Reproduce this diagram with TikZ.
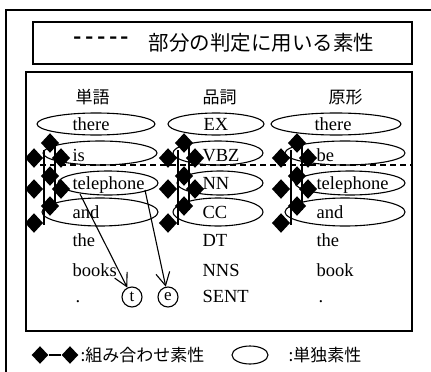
\documentclass[tikz,border=0pt]{standalone}
\usepackage{fontspec}
\setmainfont{Liberation Serif}
\newfontfamily\jp{Noto Sans CJK JP}
\usetikzlibrary{arrows.meta,shapes.geometric}
\begin{document}
\begin{tikzpicture}[x=1pt,y=-1pt,line width=1.1pt,
  word/.style={anchor=base west,inner sep=0pt,font=\fontsize{18.5}{18.5}\selectfont},
  head/.style={anchor=west,inner sep=0pt,font=\jp\fontsize{17}{17}\selectfont},
  legtext/.style={anchor=west,inner sep=0pt,font=\jp\fontsize{17}{17}\selectfont},
  diam/.style={diamond,fill=black,draw=none,minimum width=17pt,minimum height=18pt,inner sep=0pt},
  bigdiam/.style={diam,minimum width=18.5pt,minimum height=20pt},
  letter/.style={circle,draw,minimum size=20pt,inner sep=0pt,font=\fontsize{17}{17}\selectfont},
  arr/.style={-{Straight Barb[length=13pt,width=14pt,line width=1.1pt]},line width=1.1pt}
]
\useasboundingbox (0,0) rectangle (431,372);
% frames
\draw (6,380) -- (6,10) -- (440,10);
\node[draw,minimum width=379pt,minimum height=42pt,inner sep=0pt] (titlebox) at (222.5,43) {};
\node[anchor=west,inner sep=0pt,font=\jp\fontsize{21}{21}\selectfont] (dashes) at (73,42) {\scalebox{1.15}[1.6]{{-}\kern3pt{-}\kern3pt{-}\kern3pt{-}\kern3pt{-}}};
\node[anchor=west,inner sep=0pt,font=\jp\fontsize{20.5}{20.5}\selectfont] (title) at (148,43) {部分の判定に用いる素性};
\node[draw,minimum width=386pt,minimum height=259pt,inner sep=0pt] (inner) at (219,201.5) {};
% headers
\node[head] (h1) at (75,97) {単語};
\node[head] (h2) at (202,97) {品詞};
\node[head] (h3) at (328,97) {原形};
% ellipses
\foreach \cx/\rx/\cy/\ry in {96/59/124/11, 100/57/153/12, 108/50/183/12, 100/58/212/14,
  216/48/124/11, 218/45/153/12, 220/43/183/12, 218/45/212/14,
  336/65/124/11, 345/60/153/12, 350/55/183/12, 345/60/212/14}
  \draw (\cx,\cy) ellipse [x radius=\rx, y radius=\ry];
% dashed line
\draw[dashed,dash pattern=on 6pt off 4pt] (40,165) -- (412,165);
% lattices
\foreach \xo in {33,167,280}{
  \draw (\xo+11,150) -- (\xo+11,225);
  \draw (\xo+22,140) -- (\xo+22,210);
  \foreach \dx/\dy in {17/143,1/158,28/158,17/176,1/189,28/189,17/206,1/223}
    \node[bigdiam] at (\xo+\dx,\dy) {};
}
% words
\node[word] (w1) at (72,130) {there};
\node[word] (w2) at (72,161) {is};
\node[word] (w3) at (72,189) {telephone};
\node[word] (w4) at (72,218) {and};
\node[word] (w5) at (72,246) {the};
\node[word] (w6) at (72,276) {books};
\node[word] (w7) at (75,302) {.};
\node[word] (p1) at (203,130) {EX};
\node[word] (p2) at (202,161) {VBZ};
\node[word] (p3) at (202,189) {NN};
\node[word] (p4) at (202,218) {CC};
\node[word] (p5) at (202,246) {DT};
\node[word] (p6) at (202,276) {NNS};
\node[word] (p7) at (202,302) {SENT};
\node[word] (b1) at (314,130) {there};
\node[word] (b2) at (316,161) {be};
\node[word] (b3) at (316,189) {telephone};
\node[word] (b4) at (316,218) {and};
\node[word] (b5) at (316,246) {the};
\node[word] (b6) at (316,276) {book};
\node[word] (b7) at (318,302) {.};
% letter circles and arrows
\node[letter] (t) at (132,297) {t};
\node[letter] (e) at (168,297) {e};
\coordinate (s1) at (80,194);
\coordinate (s2) at (145,190);
\draw[arr] (s1) -- (t);
\draw[arr] (s2) -- (e);
% legend
\node[diam] (l1) at (40,355) {};
\node[diam] (l2) at (70,355) {};
\draw (l1) -- (l2);
\node[legtext] (lt1) at (80,355) {:組み合わせ素性};
\node[draw,ellipse,minimum width=36pt,minimum height=18pt,inner sep=0pt] (le) at (250,355) {};
\node[legtext] (lt2) at (288,355) {:単独素性};
\end{tikzpicture}
\end{document}
